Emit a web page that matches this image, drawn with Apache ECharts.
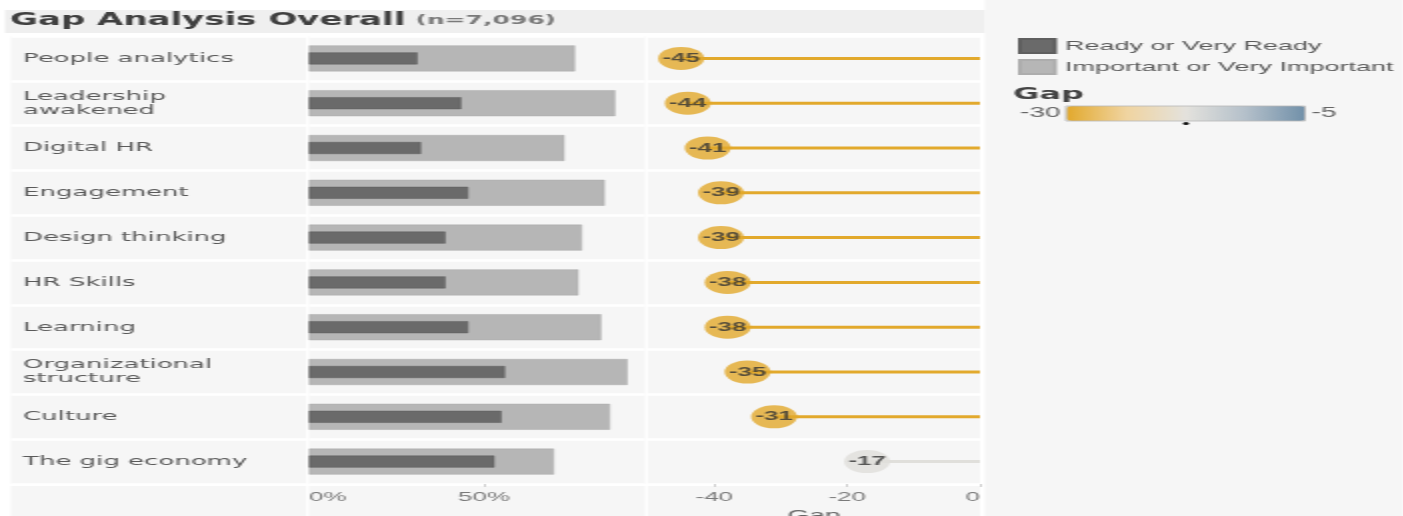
<!DOCTYPE html>
<html>
<head>
<meta charset="utf-8">
<title>Gap Analysis Overall</title>
<script src="https://cdn.jsdelivr.net/npm/echarts@6/dist/echarts.min.js"></script>
<style>
  html, body { margin: 0; padding: 0; background: #ffffff; overflow: hidden; }
  /* the chart is laid out at half width and widened 2x */
  #chart { width: 701.5px; height: 516px; transform: scaleX(2); transform-origin: 0 0; }
</style>
</head>
<body>
<div id="chart"></div>
<script>
// ---- data ----
const categories = [
  'People analytics', 'Leadership\nawakened', 'Digital HR', 'Engagement',
  'Design thinking', 'HR Skills', 'Learning', 'Organizational\nstructure',
  'Culture', 'The gig economy'
];
const readyPct = [31, 43.5, 32, 45.5, 39, 39, 45.5, 56, 55, 53];
const importantPct = [76, 87.5, 73, 84.5, 78, 77, 83.5, 91, 86, 70];
const gapValues = [-45, -44, -41, -39, -39, -38, -38, -35, -31, -17];
const pctTicks = [0, 50];
const gapTicks = [-40, -20, 0];
const gapColorRange = [-30, -5];

// ---- layout helpers (x in full-width pixels, halved for the widened container) ----
const S = 2;
const X = v => v / S;
const ROW_TOP = 36, ROW_H = 448;
const FONT = '"Liberation Sans", Arial, sans-serif';
const WIDE = '"DejaVu Sans", sans-serif';
const PANEL = '#f6f6f6';

const rowAxis = (gridIndex, showLabels) => ({
  type: 'category', gridIndex, data: categories, inverse: true,
  axisLine: { show: false }, axisTick: { show: false },
  axisLabel: showLabels ? {
    show: true, align: 'left', margin: X(309 - 23), fontFamily: WIDE,
    fontSize: 13, lineHeight: 14, color: '#5a5a5a'
  } : { show: false },
  splitArea: { show: true, areaStyle: { color: [PANEL] } },
  splitLine: { show: true, lineStyle: { color: '#ffffff', width: 2.5 } }
});

const chart = echarts.init(document.getElementById('chart'));
chart.setOption({
  backgroundColor: '#ffffff',
  animation: false,
  textStyle: { fontFamily: FONT },
  title: [
    {
      left: X(10), top: 12, padding: 0,
      text: '{a|Gap Analysis Overall} {b|(n=7,096)}',
      textStyle: {
        rich: {
          a: { fontFamily: WIDE, fontSize: 17, fontWeight: 'bold', color: '#404040' },
          b: { fontFamily: WIDE, fontSize: 12.5, fontWeight: 'bold', color: '#7a7a7a' }
        }
      }
    },
    {
      left: X(1013), top: 87, padding: 0, text: 'Gap',
      textStyle: { fontFamily: WIDE, fontSize: 16, fontWeight: 'bold', color: '#444444' }
    }
  ],
  legend: {
    orient: 'vertical', left: X(1018), top: 38, padding: 0,
    icon: 'rect', itemWidth: X(35), itemHeight: 14, itemGap: 5,
    data: ['Ready or Very Ready', 'Important or Very Important'],
    textStyle: { fontFamily: FONT, fontSize: 13.5, color: '#5a5a5a' },
    selectedMode: false
  },
  visualMap: {
    type: 'continuous', seriesIndex: [2, 3], dimension: 0,
    min: gapColorRange[0], max: gapColorRange[1],
    orient: 'horizontal', left: X(1020), top: 106, padding: 0,
    itemWidth: 15, itemHeight: X(239), textGap: 3,
    text: [String(gapColorRange[1]), String(gapColorRange[0])],
    textStyle: { fontFamily: FONT, fontSize: 14, color: '#666666' },
    calculable: false, hoverLink: false,
    inRange: { color: ['#e2a92c', '#f0d4a0', '#e4e2dd', '#b4c0ca', '#7190a9'] }
  },
  graphic: [
    { type: 'rect', shape: { x: X(5), y: 10, width: X(980), height: 23 }, style: { fill: '#efefef' }, silent: true, z: -10 },
    { type: 'rect', shape: { x: X(985), y: 0, width: X(418), height: 516 }, style: { fill: PANEL }, silent: true, z: -10 },
    { type: 'rect', shape: { x: X(11), y: 486, width: X(295), height: 30 }, style: { fill: PANEL }, silent: true, z: -10 },
    { type: 'rect', shape: { x: X(309), y: 486, width: X(336), height: 30 }, style: { fill: PANEL }, silent: true, z: -10 },
    { type: 'rect', shape: { x: X(648), y: 486, width: X(332), height: 30 }, style: { fill: PANEL }, silent: true, z: -10 },
    { type: 'rect', shape: { x: X(1066), y: 106, width: X(239), height: 15 }, style: { fill: 'none', stroke: '#b8b8b8', lineWidth: 0.8 }, silent: true, z: 100 },
    { type: 'circle', shape: { cx: X(1186), cy: 123.5, r: 1.5 }, style: { fill: '#111111' }, silent: true, z: 100 }
  ],
  grid: [
    { left: X(11), top: ROW_TOP, width: X(295), height: ROW_H, outerBoundsMode: 'none' },
    { left: X(309), top: ROW_TOP, width: X(336), height: ROW_H, outerBoundsMode: 'none' },
    { left: X(648), top: ROW_TOP, width: X(332), height: ROW_H, outerBoundsMode: 'none' }
  ],
  xAxis: [
    { type: 'value', gridIndex: 0, min: 0, max: 1, show: false },
    {
      type: 'value', gridIndex: 1, min: 0, max: 96,
      axisLine: { show: false }, splitLine: { show: false },
      axisTick: { show: true, customValues: [50], length: 3, lineStyle: { color: '#d0d0d0' } },
      axisLabel: {
        customValues: pctTicks, formatter: '{value}%', margin: 7,
        fontFamily: FONT, fontSize: 13, color: '#7a7a7a', alignMinLabel: 'left'
      }
    },
    {
      type: 'value', gridIndex: 2, min: -50, max: 0,
      name: 'Gap', nameLocation: 'middle', nameGap: 24,
      nameTextStyle: { fontFamily: FONT, fontSize: 14, color: '#666666' },
      axisLine: { show: false }, splitLine: { show: false },
      axisTick: { show: true, customValues: gapTicks, length: 3, lineStyle: { color: '#d0d0d0' } },
      axisLabel: {
        customValues: gapTicks, margin: 7,
        fontFamily: FONT, fontSize: 13, color: '#7a7a7a', alignMaxLabel: 'right'
      }
    }
  ],
  yAxis: [
    rowAxis(0, false),
    rowAxis(1, true),
    Object.assign(rowAxis(1, false), { splitArea: { show: false }, splitLine: { show: false } }),
    rowAxis(2, false)
  ],
  series: [
    {
      name: 'Important or Very Important', type: 'bar',
      xAxisIndex: 1, yAxisIndex: 1, barWidth: 26,
      data: importantPct,
      itemStyle: { color: '#b6b6b6', borderColor: '#adadad', borderWidth: 0.5 }
    },
    {
      name: 'Ready or Very Ready', type: 'bar',
      xAxisIndex: 1, yAxisIndex: 2, barWidth: 12,
      data: readyPct,
      itemStyle: { color: '#6a6a6a', borderColor: '#5f5f5f', borderWidth: 0.5 }
    },
    {
      name: 'gap-line', type: 'bar',
      xAxisIndex: 2, yAxisIndex: 3, barWidth: 3,
      data: gapValues.map((v, i) => [v, categories[i]]),
      encode: { x: 0, y: 1 }
    },
    {
      name: 'gap-point', type: 'scatter',
      xAxisIndex: 2, yAxisIndex: 3,
      symbol: 'circle', symbolSize: 23,
      data: gapValues.map((v, i) => [v, categories[i]]),
      encode: { x: 0, y: 1 },
      label: {
        show: true, position: 'inside',
        formatter: p => String(p.value[0]),
        fontFamily: FONT, fontSize: 13, fontWeight: 'bold', color: '#333333'
      },
      z: 5
    }
  ]
});
</script>
</body>
</html>
